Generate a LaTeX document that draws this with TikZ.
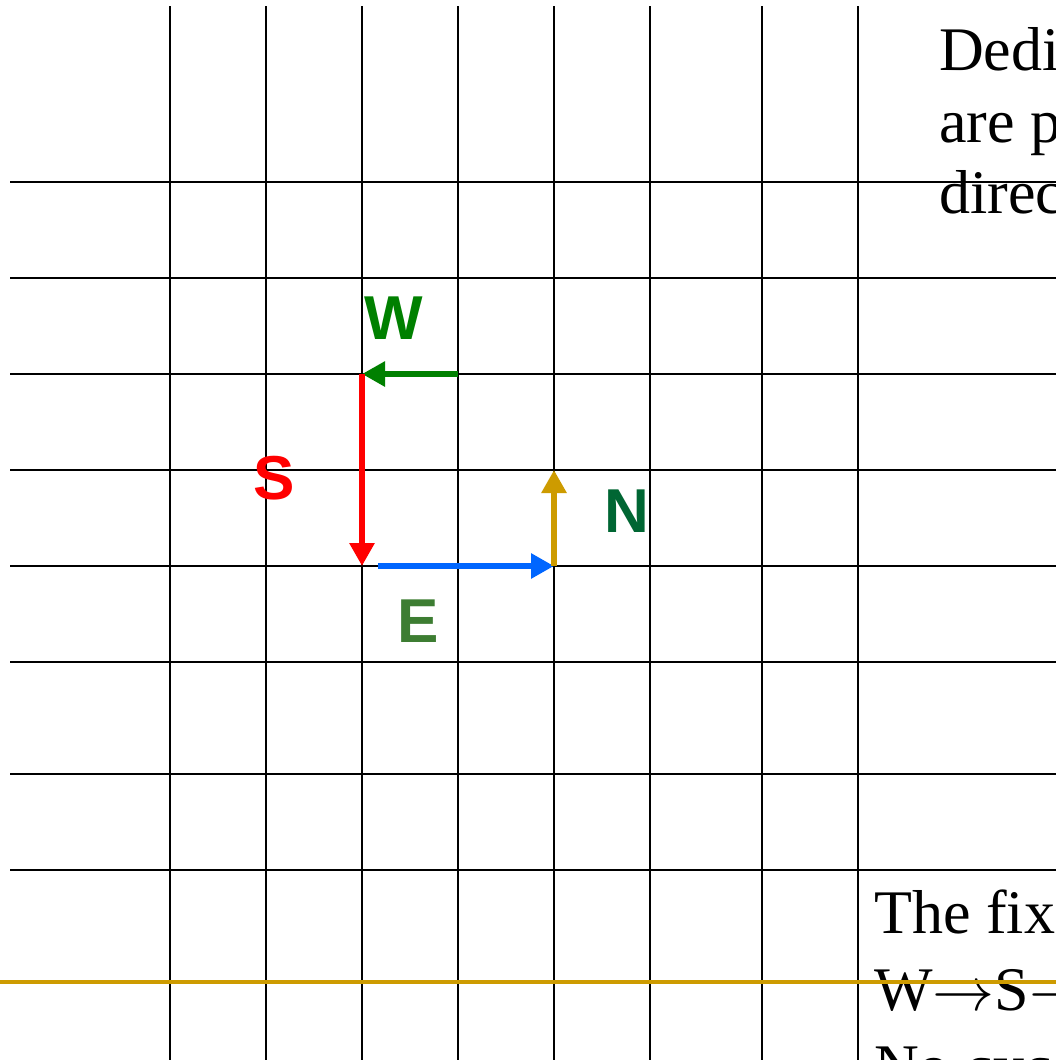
\documentclass[tikz,border=0pt]{standalone}
\usepackage{graphicx}
\usepackage{fontspec}
\setmainfont{Liberation Serif}
\newfontfamily\labelfont{Liberation Sans}
\usetikzlibrary{arrows.meta}
\definecolor{wgreen}{RGB}{0,128,0}
\definecolor{sred}{RGB}{255,0,0}
\definecolor{eblue}{RGB}{0,102,255}
\definecolor{ngold}{RGB}{205,155,0}
\definecolor{elabel}{RGB}{61,125,50}
\definecolor{nlabel}{RGB}{0,102,51}
\newcommand{\bigarr}{\scalebox{6.2}{\fontsize{10}{12}\selectfont$\rightarrow$}}
\tikzset{
  gridline/.style={line width=2pt,black},
  dirarrow/.style={line width=6.5pt,-{Triangle[length=23pt,width=24pt]}},
  dirlabel/.style={font=\labelfont\bfseries\fontsize{62}{62}\selectfont,inner sep=0pt},
  bodytext/.style={font=\fontsize{62}{72}\selectfont,inner sep=0pt,anchor=base west},
}
\begin{document}
\begin{tikzpicture}[x=1pt,y=-1pt]
\useasboundingbox (0,0) rectangle (1056,1060);
\clip (0,0) rectangle (1056,1060);
\fill[white] (0,0) rectangle (1056,1060);
% grid
\foreach \gx in {170,266,362,458,554,650,762,858}
  \draw[gridline] (\gx,6) -- (\gx,1070);
\foreach \gy in {182,278,374,470,566,662,774,870}
  \draw[gridline] (10,\gy) -- (1070,\gy);
% points
\coordinate (wstart) at (458,374);
\coordinate (corner1) at (362,374);
\coordinate (corner2) at (362,566);
\coordinate (estart) at (378,566);
\coordinate (corner3) at (554,566);
\coordinate (ntip) at (554,470);
% arrows
\draw[dirarrow,wgreen] (wstart) -- (corner1);
\draw[dirarrow,sred] (corner1) -- (corner2);
\draw[dirarrow,eblue] (estart) -- (corner3);
\draw[dirarrow,ngold] (corner3) -- (ntip);
% labels
\node[dirlabel,text=wgreen] (lw) at (394,318) {W};
\node[dirlabel,text=sred] (ls) at (274,478) {S};
\node[dirlabel,text=elabel] (le) at (418,621) {E};
\node[dirlabel,text=nlabel] (ln) at (627,511) {N};
% texts
\node[bodytext] (t1) at (939,70) {Dedi};
\node[bodytext] (t2) at (939,142) {are p};
\node[bodytext] (t3) at (939,213) {direc};
\node[bodytext] (b1) at (874,933) {The fix};
\node[bodytext] (b2) at (874,1010) {W\bigarr S\bigarr};
\node[bodytext] (b3) at (874,1087) {No cyc};
% bottom line
\draw[line width=4pt,ngold] (-5,982) -- (1070,982);
\end{tikzpicture}
\end{document}
